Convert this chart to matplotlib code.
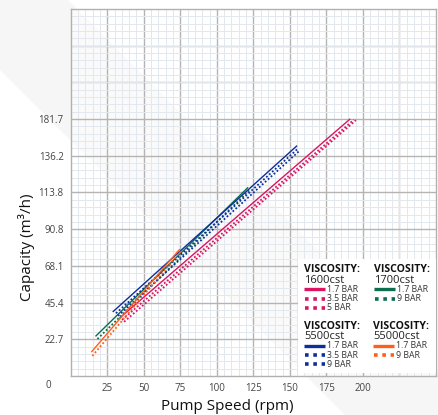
import matplotlib.pyplot as plt
from matplotlib.lines import Line2D
from matplotlib.patches import Polygon, Rectangle
from matplotlib.ticker import MultipleLocator

plt.rcParams['font.family'] = ['Open Sans', 'DejaVu Sans']

# 数据 (rpm, capacity in grid units of 22.7)
pink_17_x = [33.7, 191.0]
pink_17_y = [36.0, 158.8]
pink_35_x = [35.1, 193.8]
pink_35_y = [34.7, 158.5]
pink_5_x = [36.5, 195.2]
pink_5_y = [33.5, 158.2]

green_17_x = [17.3, 121.1]
green_17_y = [24.8, 116.4]
green_9_x = [18.3, 122.2]
green_9_y = [22.9, 114.9]

blue_17_x = [29.1, 154.6]
blue_17_y = [39.9, 142.2]
blue_35_x = [31.0, 155.7]
blue_35_y = [38.8, 140.8]
blue_9_x = [32.4, 156.8]
blue_9_y = [37.2, 139.5]

orange_17_x = [14.4, 74.3]
orange_17_y = [15.1, 78.1]
orange_9_x = [14.8, 75.1]
orange_9_y = [12.4, 76.9]

x_ticks = [25, 50, 75, 100, 125, 150, 175, 200]
y_ticks = [22.7, 45.4, 68.1, 90.8, 113.5, 136.2, 158.9]
y_labels = ['22.7', '45.4', '68.1', '90.8', '113.8', '136.2', '181.7']

PINK = '#dc1462'
GREEN = '#0b6e4f'
BLUE = '#0d2f9c'
ORANGE = '#ff5f1a'
DOT = (0, (1, 1.2))

W, H = 438, 415
fig = plt.figure(figsize=(W / 100, H / 100), dpi=100)


def fx(px):
    return px / W


def fy(py):
    return 1 - py / H


# 背景斜带
band = Polygon([(fx(0), fy(0)), (fx(68), fy(0)), (fx(438), fy(370)), (fx(438), fy(415)),
                (fx(345), fy(415)), (fx(0), fy(70))],
               closed=True, transform=fig.transFigure, facecolor='#f6f6f6', edgecolor='none', zorder=-5)
fig.add_artist(band)

ax = fig.add_axes([fx(70.7), fy(376), fx(436) - fx(70.7), fy(9) - fy(376)])
ax.set_facecolor((1, 1, 1, 0.55))

ax.plot(pink_17_x, pink_17_y, color=PINK, lw=1.0)
ax.plot(pink_35_x, pink_35_y, color=PINK, lw=1.3, ls=DOT)
ax.plot(pink_5_x, pink_5_y, color=PINK, lw=1.3, ls=DOT)
ax.plot(green_17_x, green_17_y, color=GREEN, lw=1.0)
ax.plot(green_9_x, green_9_y, color=GREEN, lw=1.3, ls=DOT)
ax.plot(blue_17_x, blue_17_y, color=BLUE, lw=1.0)
ax.plot(blue_35_x, blue_35_y, color=BLUE, lw=1.3, ls=DOT)
ax.plot(blue_9_x, blue_9_y, color=BLUE, lw=1.3, ls=DOT)
ax.plot(orange_17_x, orange_17_y, color=ORANGE, lw=1.0)
ax.plot(orange_9_x, orange_9_y, color=ORANGE, lw=1.3, ls=DOT)

ax.set_xlim(0, 250)
ax.set_ylim(0, 227)
ax.set_xticks(x_ticks)
ax.set_xticklabels([str(v) for v in x_ticks])
ax.set_yticks(y_ticks)
ax.set_yticklabels(y_labels)
ax.xaxis.set_minor_locator(MultipleLocator(5))
ax.yaxis.set_minor_locator(MultipleLocator(22.7 / 5))
ax.set_axisbelow(True)
ax.grid(True, which='major', color='#b4b4b4', lw=1.0)
ax.grid(True, which='minor', color='#e3e8ee', lw=0.7)
# 补充主网格线 (225 及顶部)
for v in [225]:
    ax.axvline(v, color='#b4b4b4', lw=1.0, zorder=0.5)
for v in [181.6, 204.3]:
    ax.axhline(v, color='#b4b4b4', lw=1.0, zorder=0.5)
ax.tick_params(which='both', length=0)
ax.tick_params(axis='x', labelsize=7, colors='#444444', pad=5)
ax.tick_params(axis='y', labelsize=7, colors='#444444', pad=5)
for s in ax.spines.values():
    s.set_color('#b0b0b0')
    s.set_linewidth(1.0)

ax.set_ylabel('Capacity (m³/h)', fontsize=11, color='#111111')
ax.yaxis.set_label_coords(-0.098, 0.35)
ax.set_xlabel('Pump Speed (rpm)', fontsize=11, color='#111111')
ax.xaxis.set_label_coords(0.428, -0.062)
fig.text(fx(48), fy(385), '0', fontsize=7, color='#444444', ha='center', va='center')

# 图例
fig.add_artist(Rectangle((fx(298), fy(373)), fx(436) - fx(298), fy(259) - fy(373),
                         transform=fig.transFigure, facecolor='white', edgecolor='none', zorder=2))

groups = [
    (304, 269, '1600cst', PINK, [('-', '1.7 BAR'), (':', '3.5 BAR'), (':', '5 BAR')]),
    (374, 269, '1700cst', GREEN, [('-', '1.7 BAR'), (':', '9 BAR')]),
    (304, 325.5, '5500cst', BLUE, [('-', '1.7 BAR'), (':', '3.5 BAR'), (':', '9 BAR')]),
    (373, 325.5, '55000cst', ORANGE, [('-', '1.7 BAR'), (':', '9 BAR')]),
]
for gx, gy, name, col, rows in groups:
    fig.text(fx(gx), fy(gy + 3.5), 'VISCOSITY:', fontsize=7.6, fontweight='bold', color='#111111',
             ha='left', va='baseline', zorder=3)
    fig.text(fx(gx), fy(gy + 13.5), name, fontsize=8.0, color='#222222',
             ha='left', va='baseline', zorder=3)
    for i, (st, lab) in enumerate(rows):
        ry = gy + 20.3 + i * 9.3
        if st == '-':
            ln = Line2D([fx(gx), fx(gx + 21)], [fy(ry), fy(ry)], transform=fig.transFigure,
                        color=col, lw=2.4, solid_capstyle='butt', zorder=3)
        else:
            ln = Line2D([fx(gx + 0.5), fx(gx + 21)], [fy(ry), fy(ry)], transform=fig.transFigure,
                        color=col, lw=2.6, ls=(0, (1, 1.3)), dash_capstyle='butt', zorder=3)
        fig.add_artist(ln)
        fig.text(fx(gx + 23), fy(ry), lab, fontsize=6.3, color='#333333',
                 ha='left', va='center', zorder=3)

fig.savefig('out.png', dpi=100)
